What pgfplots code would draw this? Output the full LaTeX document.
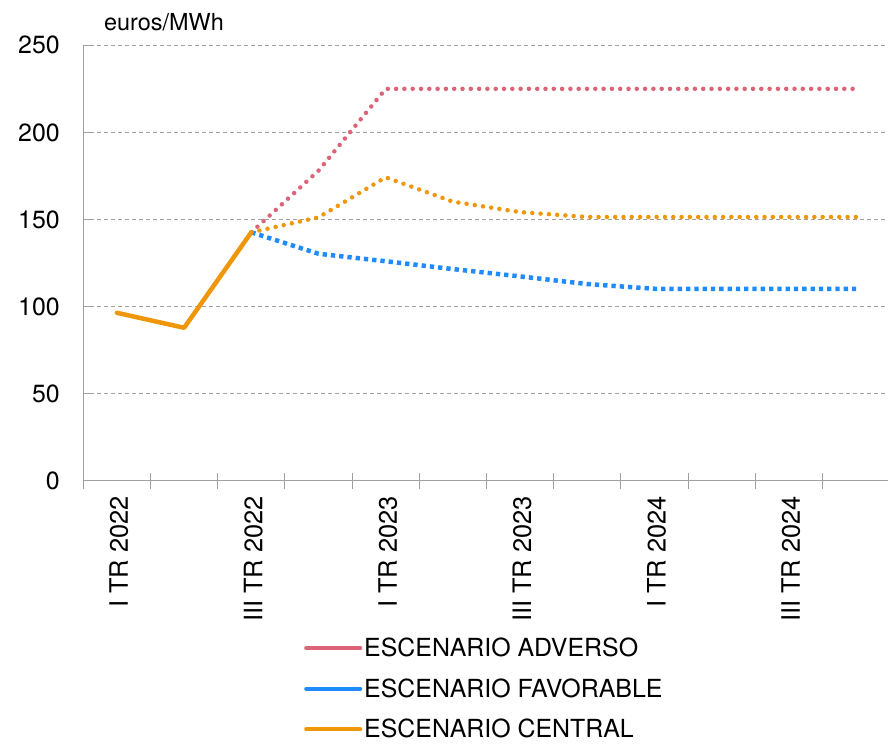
\documentclass[border=0pt]{standalone}
\usepackage{pgfplots}
\pgfplotsset{compat=1.18}
\usepackage{fontspec}
\setmainfont{TeX Gyre Heros}
\definecolor{advcol}{HTML}{DC6478}
\definecolor{favcol}{HTML}{1E8CFF}
\definecolor{cencol}{HTML}{F0960A}
\definecolor{axcol}{HTML}{A0A0A0}
\begin{document}
\begin{tikzpicture}[x=1bp,y=1bp]
\useasboundingbox (0,0) rectangle (888,744);
\begin{axis}[
  at={(83.3bp,263.3bp)}, anchor=south west,
  scale only axis, width=806.4bp, height=435.4bp,
  xmin=-0.5, xmax=11.5, ymin=0, ymax=250,
  axis x line*=bottom, axis y line*=left,
  axis line style={axcol, line width=1bp, -},
  ytick={0,50,...,250},
  ymajorgrids,
  major grid style={axcol, line width=0.9bp, dash pattern=on 4bp off 3bp},
  tick align=inside, major tick length=8bp,
  ytick style={axcol, line width=1bp},
  xtick={-0.5,0.5,...,11.5},
  x tick label as interval,
  xticklabels={I TR 2022,,III TR 2022,,I TR 2023,,III TR 2023,,I TR 2024,,III TR 2024,},
  xtick style={axcol, line width=1bp, /pgfplots/major tick length=16bp, yshift=-8bp},
  /pgf/number format/assume math mode=true,
  yticklabel style={font=\fontsize{25}{29}\selectfont, xshift=-20bp},
  xticklabel style={font=\fontsize{25.5}{29}\selectfont, rotate=90, anchor=east, xshift=-12bp, yshift=-2bp},
  legend style={draw=none, fill=none, font=\fontsize{25}{29}\selectfont,
    at={(0.27,-0.352)}, anchor=north west, row sep=16.5bp},
  legend cell align=left,
  legend image code/.code={\draw[#1, line width=4bp, line cap=round] (0bp,0bp) -- (54bp,0bp);},
]
\addlegendimage{advcol}
\addlegendimage{favcol}
\addlegendimage{cencol}
\addplot[forget plot, advcol, line width=4.5bp, line cap=round, dash pattern=on 0bp off 8.3bp]
  coordinates {(2,142.6)(3,178)(4,225)(5,225)(6,225)(7,225)(8,225)(9,225)(10,225)(11,225)};
\addplot[forget plot, favcol, line width=4.5bp, line cap=butt, dash pattern=on 4.3bp off 4bp]
  coordinates {(2,142.6)(3,130.3)(4,126)(5,121.5)(6,117.3)(7,112.9)(8,110.2)(9,110.2)(10,110.2)(11,110.2)};
\addplot[forget plot, cencol, line width=4.5bp, line cap=round, dash pattern=on 0bp off 8.3bp]
  coordinates {(2,142.6)(3,151.2)(4,174.2)(5,160.2)(6,154.2)(7,151.4)(8,151.4)(9,151.4)(10,151.4)(11,151.4)};
\addplot[forget plot, cencol, line width=4.5bp, line cap=round, line join=round]
  coordinates {(0,96.4)(1,87.8)(2,142.6)};
\legend{ESCENARIO ADVERSO, ESCENARIO FAVORABLE, ESCENARIO CENTRAL}
\end{axis}
\node[anchor=west, font=\fontsize{23.5}{27}\selectfont, inner sep=0pt] at (104,722) {euros/MWh};
\end{tikzpicture}
\end{document}
